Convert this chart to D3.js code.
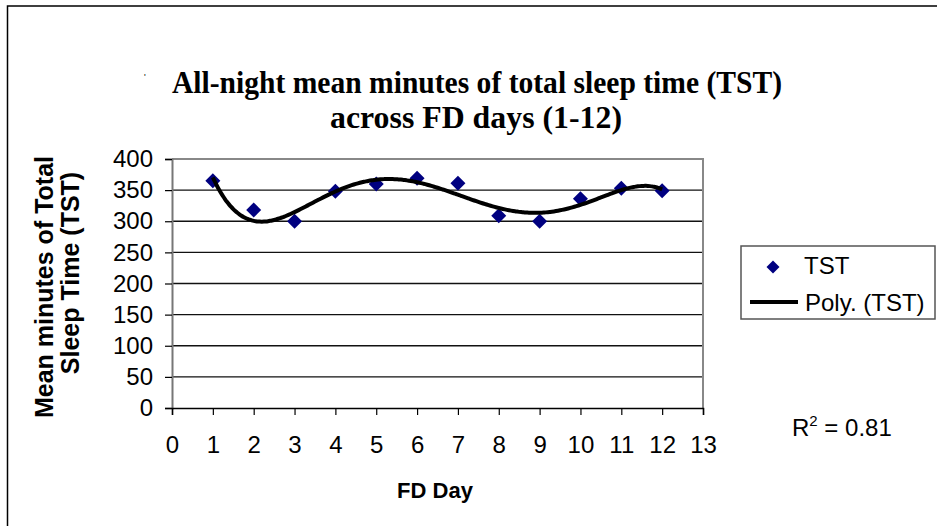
<!DOCTYPE html>
<html>
<head>
<meta charset="utf-8">
<script src="https://cdn.jsdelivr.net/npm/d3@7/dist/d3.min.js"></script>
<style>
  body { margin: 0; background: #fff; }
  svg { display: block; }
</style>
</head>
<body>
<svg id="chart"></svg>
<script>
// data
var days = [1, 2, 3, 4, 5, 6, 7, 8, 9, 10, 11, 12];
var tst = [365, 318, 300, 348, 360, 369, 361, 309, 300, 336, 353, 349];
var xTicks = d3.range(0, 14);
var yTicks = d3.range(0, 401, 50);
var titleLines = ["All-night mean minutes of total sleep time (TST)", "across FD days (1-12)"];
var yLabelLines = ["Mean minutes of Total", "Sleep Time (TST)"];
var xLabel = "FD Day";
var legendItems = ["TST", "Poly. (TST)"];
var rSquared = "0.81";
var polyOrder = 5;

var W = 937, H = 526;
var svg = d3.select('#chart').attr('width', W).attr('height', H);
var sans = "'Liberation Sans', Arial, sans-serif";
var serif = "'Liberation Serif', 'Times New Roman', serif";

// outer chart border (runs off the right/bottom edge)
svg.append('rect')
    .attr('x', 7.5).attr('y', 6)
    .attr('width', W + 10).attr('height', H + 10)
    .attr('fill', 'none').attr('stroke', '#000').attr('stroke-width', 1.5);

var x = d3.scaleLinear().domain([0, 13]).range([172, 703]);
var y = d3.scaleLinear().domain([0, 400]).range([408, 159]);

// gridlines
svg.append('g').selectAll('line')
    .data(yTicks.slice(1, -1))
    .enter().append('line')
    .attr('x1', x(0)).attr('x2', x(13))
    .attr('y1', d => y(d)).attr('y2', d => y(d))
    .attr('stroke', '#111').attr('stroke-width', 1.3);

// plot area frame top/right in gray
svg.append('path')
    .attr('d', `M${x(0)},${y(400)}H${x(13)}V${y(0)}`)
    .attr('fill', 'none').attr('stroke', '#888').attr('stroke-width', 2);

// axes
var yAxis = svg.append('g')
    .attr('transform', `translate(${x(0)},0)`)
    .call(d3.axisLeft(y).tickValues(yTicks).tickSize(7).tickPadding(12));
var xAxis = svg.append('g')
    .attr('transform', `translate(0,${y(0)})`)
    .call(d3.axisBottom(x).tickValues(xTicks).tickSize(7).tickPadding(21));
[yAxis, xAxis].forEach(function(a) {
    a.select('.domain').attr('stroke', '#000').attr('stroke-width', 1.5);
    a.selectAll('.tick line').attr('stroke', '#000').attr('stroke-width', 1.2);
    a.selectAll('.tick text').attr('font-family', sans).attr('font-size', 24).attr('fill', '#000');
});
yAxis.select('.domain').attr('stroke', '#777').attr('stroke-width', 2);

// polynomial trendline (least squares on centred x)
function polyFit(xs, ys, order) {
    var n = order + 1;
    var A = [], b = [];
    for (var i = 0; i < n; i++) {
        A.push(new Array(n).fill(0));
        b.push(0);
    }
    xs.forEach(function(xv, k) {
        var t = (xv - 6.5) / 5.5;
        for (var i = 0; i < n; i++) {
            b[i] += ys[k] * Math.pow(t, i);
            for (var j = 0; j < n; j++) A[i][j] += Math.pow(t, i + j);
        }
    });
    // gaussian elimination
    for (var c = 0; c < n; c++) {
        var p = c;
        for (var r = c + 1; r < n; r++) if (Math.abs(A[r][c]) > Math.abs(A[p][c])) p = r;
        var tmp = A[c]; A[c] = A[p]; A[p] = tmp;
        var tb = b[c]; b[c] = b[p]; b[p] = tb;
        for (var r = c + 1; r < n; r++) {
            var f = A[r][c] / A[c][c];
            for (var j = c; j < n; j++) A[r][j] -= f * A[c][j];
            b[r] -= f * b[c];
        }
    }
    var coef = new Array(n).fill(0);
    for (var i = n - 1; i >= 0; i--) {
        var s = b[i];
        for (var j = i + 1; j < n; j++) s -= A[i][j] * coef[j];
        coef[i] = s / A[i][i];
    }
    return function(xv) {
        var t = (xv - 6.5) / 5.5;
        return coef.reduce((acc, c, i) => acc + c * Math.pow(t, i), 0);
    };
}
var trend = polyFit(days, tst, polyOrder);
var curve = d3.range(1, 12.001, 0.05).map(d => [d, trend(d)]);

// markers
var diamond = 'M0,-7.5L7.5,0L0,7.5L-7.5,0Z';
svg.append('g').selectAll('path')
    .data(days)
    .enter().append('path')
    .attr('d', diamond)
    .attr('transform', (d, i) => `translate(${x(d)},${y(tst[i])})`)
    .attr('fill', '#000080');

svg.append('path')
    .datum(curve)
    .attr('d', d3.line().x(d => x(d[0])).y(d => y(d[1])).curve(d3.curveBasis))
    .attr('fill', 'none').attr('stroke', '#000').attr('stroke-width', 4);

// title
var title = svg.append('g')
    .attr('font-family', serif).attr('font-weight', 'bold').attr('font-size', 32)
    .attr('text-anchor', 'middle');
title.append('text')
    .attr('x', 477).attr('y', 93)
    .attr('textLength', 610).attr('lengthAdjust', 'spacingAndGlyphs')
    .text(titleLines[0]);
title.append('text')
    .attr('x', 476).attr('y', 128)
    .attr('textLength', 292).attr('lengthAdjust', 'spacingAndGlyphs')
    .text(titleLines[1]);
svg.append('text')
    .attr('x', 144).attr('y', 80)
    .attr('font-family', sans).attr('font-size', 9)
    .text("'");

// axis titles
var yLabelPos = [[53, 287], [79, 273]];
svg.append('g').selectAll('text')
    .data(yLabelLines)
    .enter().append('text')
    .attr('transform', (d, i) => `translate(${yLabelPos[i][0]},${yLabelPos[i][1]}) rotate(-90)`)
    .attr('text-anchor', 'middle')
    .attr('font-family', sans).attr('font-weight', 'bold').attr('font-size', 25)
    .text(d => d);

svg.append('text')
    .attr('x', 435).attr('y', 498)
    .attr('text-anchor', 'middle')
    .attr('font-family', sans).attr('font-weight', 'bold').attr('font-size', 22)
    .text(xLabel);

// legend
var legend = svg.append('g');
legend.append('rect')
    .attr('x', 741).attr('y', 246).attr('width', 194).attr('height', 73)
    .attr('fill', '#fff').attr('stroke', '#555').attr('stroke-width', 1.5);
legend.append('path')
    .attr('d', 'M0,-6.5L6.5,0L0,6.5L-6.5,0Z')
    .attr('transform', 'translate(773,267)')
    .attr('fill', '#000080');
legend.append('line')
    .attr('x1', 750).attr('x2', 798).attr('y1', 302).attr('y2', 302)
    .attr('stroke', '#000').attr('stroke-width', 4);
legend.selectAll('text.item')
    .data(legendItems)
    .enter().append('text')
    .attr('class', 'item')
    .attr('x', (d, i) => i === 0 ? 804 : 805)
    .attr('y', (d, i) => 274 + i * 37)
    .attr('font-family', sans).attr('font-size', 24)
    .text(d => d);

// R squared label
var r2 = svg.append('text')
    .attr('x', 792).attr('y', 436)
    .attr('font-family', sans).attr('font-size', 24);
r2.append('tspan').text('R');
r2.append('tspan').attr('dy', -10).attr('font-size', 15).text('2');
r2.append('tspan').attr('dy', 10).text(' = ' + rSquared);
</script>
</body>
</html>
